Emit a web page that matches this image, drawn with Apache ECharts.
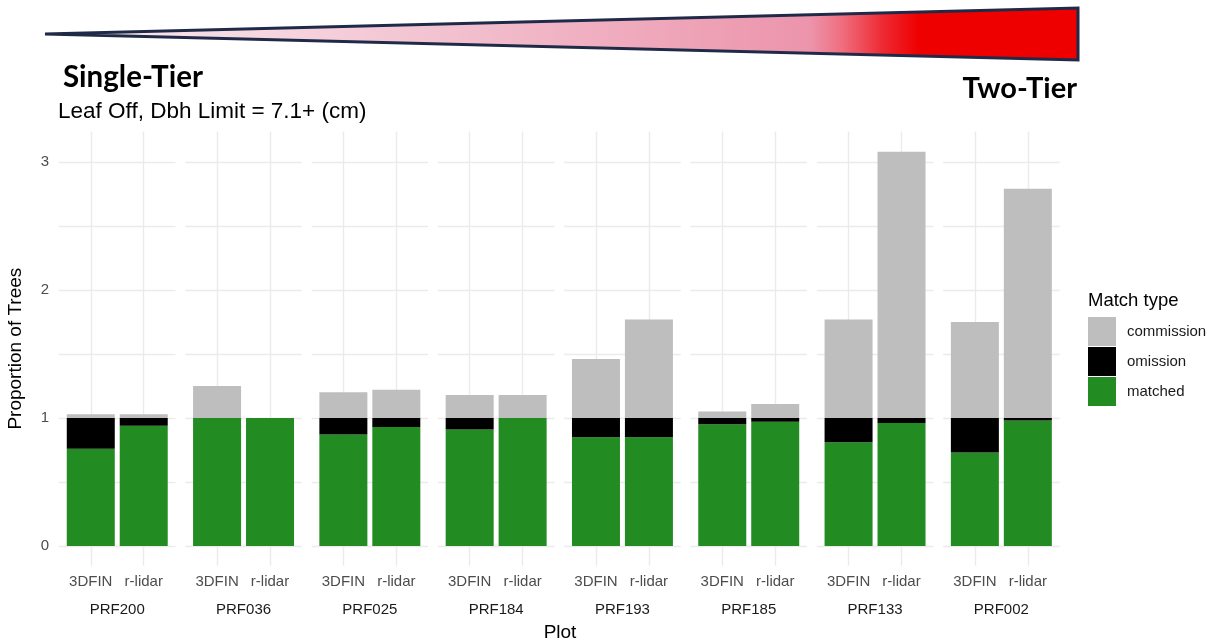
<!DOCTYPE html>
<html>
<head>
<meta charset="utf-8">
<script src="https://cdn.jsdelivr.net/npm/echarts@6/dist/echarts.min.js"></script>
<style>
html,body{margin:0;padding:0;background:#fff;}
#chart{width:1215px;height:644px;}
</style>
</head>
<body>
<div id="chart"></div>
<script>
// ---- data ----
const plots = ['PRF200','PRF036','PRF025','PRF184','PRF193','PRF185','PRF133','PRF002'];
const methods = ['3DFIN','r-lidar'];
const matchTypes = ['commission','omission','matched'];
const matched3DFIN    = [0.76, 1.00, 0.87, 0.91, 0.85, 0.95, 0.81, 0.73];
const omission3DFIN   = [0.24, 0.00, 0.13, 0.09, 0.15, 0.05, 0.19, 0.27];
const commission3DFIN = [0.03, 0.25, 0.20, 0.18, 0.46, 0.05, 0.77, 0.75];
const matchedRlidar    = [0.94, 1.00, 0.93, 1.00, 0.85, 0.97, 0.96, 0.98];
const omissionRlidar   = [0.06, 0.00, 0.07, 0.00, 0.15, 0.03, 0.04, 0.02];
const commissionRlidar = [0.03, 0.00, 0.22, 0.18, 0.77, 0.11, 2.08, 1.79];
const yTickLabels = [0, 1, 2, 3];
const yGridValues = [0, 0.5, 1, 1.5, 2, 2.5, 3];

// ---- layout ----
const colors = {commission:'#BEBEBE', omission:'#000000', matched:'#228B22'};
const FONT = 'Liberation Sans, Arial, sans-serif';
const panelLeft0 = 59, panelStep = 126.3, panelW = 116.5;
const panelTop = 131.6, panelH = 434.1;
const yMin = -0.154, yMax = 3.237;
const gridStyle = {color: '#ebebeb', width: 1.4};

const grids = [], xAxes = [], yAxes = [], series = [];
const seriesData = {
  matched: [matched3DFIN, matchedRlidar],
  omission: [omission3DFIN, omissionRlidar],
  commission: [commission3DFIN, commissionRlidar]
};

plots.forEach((p, i) => {
  grids.push({left: panelLeft0 + i*panelStep, top: panelTop, width: panelW, height: panelH, containLabel: false});
  xAxes.push({
    type: 'value', gridIndex: i, min: 0.4, max: 2.6,
    name: p, nameLocation: 'middle', nameGap: 37,
    nameTextStyle: {fontFamily: FONT, fontSize: 15, color: '#1a1a1a'},
    axisLine: {show: false},
    axisTick: {show: false, customValues: [1, 2]},
    axisLabel: {customValues: [1, 2], formatter: v => methods[Math.round(v) - 1],
      fontFamily: FONT, fontSize: 15, color: '#4d4d4d', margin: 9},
    splitLine: {show: true, lineStyle: gridStyle}
  });
  yAxes.push({
    type: 'value', gridIndex: i, min: yMin, max: yMax,
    name: i === 0 ? 'Proportion of Trees' : '', nameLocation: 'middle', nameGap: 33.5, nameRotate: 90,
    nameTextStyle: {fontFamily: FONT, fontSize: 19, color: '#000'},
    axisLine: {show: false},
    axisTick: {show: false, customValues: yGridValues},
    axisLabel: {show: i === 0, customValues: yTickLabels, fontFamily: FONT, fontSize: 15, color: '#4d4d4d', margin: 10},
    splitLine: {show: true, lineStyle: gridStyle}
  });
  ['matched','omission','commission'].forEach(t => {
    series.push({
      type: 'bar', name: t, xAxisIndex: i, yAxisIndex: i, stack: 'st' + i,
      barWidth: 48,
      encode: {x: 1, y: 0},
      itemStyle: {color: colors[t]},
      emphasis: {disabled: true},
      data: [[seriesData[t][0][i], 1], [seriesData[t][1][i], 2]]
    });
  });
});

const chart = echarts.init(document.getElementById('chart'), null, {renderer: 'canvas'});
chart.setOption({
  animation: false,
  backgroundColor: '#fff',
  grid: grids, xAxis: xAxes, yAxis: yAxes, series: series,
  legend: {
    data: matchTypes, orient: 'vertical', left: 1088, top: 317, padding: 0,
    itemWidth: 28, itemHeight: 29, itemGap: 1, icon: 'rect',
    textStyle: {fontFamily: FONT, fontSize: 15, color: '#1a1a1a', padding: [0,0,0,6]},
    selectedMode: false
  },
  title: [
    {text: 'Match type', left: 1088, top: 291, padding: 0, textStyle: {fontFamily: FONT, fontSize: 18.5, fontWeight: 'normal', color: '#000'}},
    {text: 'Plot', left: 560, top: 623, padding: 0, textAlign: 'center', textStyle: {fontFamily: FONT, fontSize: 19, fontWeight: 'normal', color: '#000'}},
    {text: 'Leaf Off, Dbh Limit = 7.1+ (cm)', left: 58, top: 100, padding: 0, textStyle: {fontFamily: FONT, fontSize: 22.5, fontWeight: 'normal', color: '#000'}}
  ],
  graphic: [
    {type: 'polygon', shape: {points: [[45, 34], [1078, 8], [1078, 60]]},
      style: {
        fill: new echarts.graphic.LinearGradient(0, 0, 1, 0, [
          {offset: 0, color: '#fbeef2'},
          {offset: 0.35, color: '#f3c6d3'},
          {offset: 0.74, color: '#ec94ab'},
          {offset: 0.77, color: '#ef6f80'},
          {offset: 0.81, color: '#ee2a33'},
          {offset: 0.845, color: '#ee0000'},
          {offset: 1, color: '#ee0000'}
        ]),
        stroke: '#1f2a48', lineWidth: 3, lineJoin: 'miter'
      }},
    {type: 'text', left: 63, top: 62, style: {text: 'Single-Tier', font: 'bold 29.5px Lato, "Open Sans", sans-serif', fill: '#000'}},
    {type: 'text', right: 138, top: 74, style: {text: 'Two-Tier', font: 'bold 29px Lato, "Open Sans", sans-serif', fill: '#000'}}
  ]
});
</script>
</body>
</html>
